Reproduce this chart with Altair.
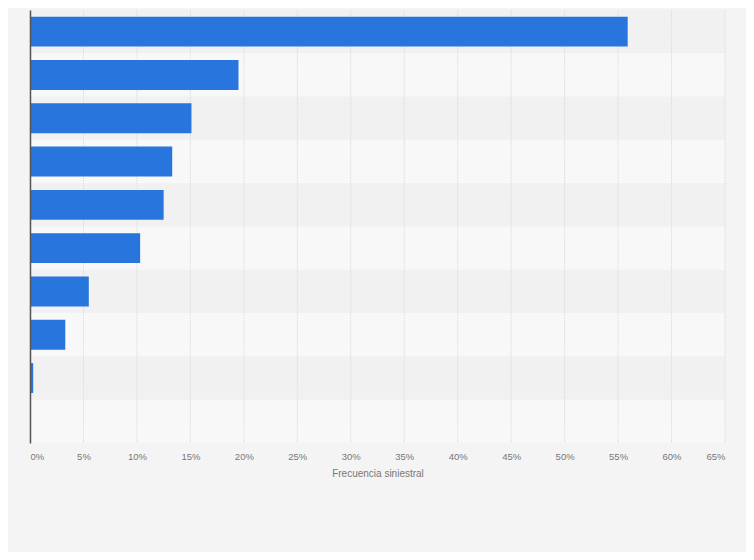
import altair as alt
import pandas as pd

categorias = [f"Categoría {i}" for i in range(1, 11)]
valores = [55.9, 19.5, 15.1, 13.3, 12.5, 10.3, 5.5, 3.3, 0.3, 0.0]
ticks = [0, 5, 10, 15, 20, 25, 30, 35, 40, 45, 50, 55, 60, 65]

df = pd.DataFrame({"categoria": categorias, "valor": valores})
df_ticks = pd.DataFrame({"t": ticks})

W, H = 695, 433
xscale = alt.Scale(domain=[0, 65], nice=False, zero=True)
yscale = alt.Scale(domain=categorias, paddingInner=0, paddingOuter=0)

y_axis = alt.Axis(
    labels=False,
    ticks=False,
    title=None,
    grid=False,
    domainColor="#555555",
    domainWidth=1.5,
    zindex=2,
)
x_axis = alt.Axis(
    values=ticks,
    labelExpr="datum.value + '%'",
    labelFlush=True,
    domain=False,
    ticks=False,
    grid=False,
    labelPadding=8,
    labelFontSize=9.5,
    labelColor="#777777",
    labelFont="Liberation Sans",
    titleFont="Liberation Sans",
    titleFontSize=10,
    titleFontWeight="normal",
    titleColor="#777777",
    titlePadding=8,
)
x_title = "Frecuencia siniestral"

bands = (
    alt.Chart(df)
    .transform_window(idx="row_number()")
    .transform_calculate(par="datum.idx % 2 == 1 ? 'impar' : 'par'")
    .mark_rect()
    .encode(
        y=alt.Y("categoria:N", scale=yscale, sort=categorias, axis=y_axis),
        x=alt.value(0),
        x2=alt.value(W),
        color=alt.Color(
            "par:N",
            scale=alt.Scale(domain=["impar", "par"], range=["#f1f1f1", "#f8f8f8"]),
            legend=None,
        ),
    )
)

grid = (
    alt.Chart(df_ticks)
    .mark_rule(color="#dcdcdc", strokeDash=[1.5, 1], strokeWidth=1)
    .encode(
        x=alt.X("t:Q", scale=xscale, axis=x_axis, title=x_title),
        y=alt.value(0),
        y2=alt.value(H),
    )
)

bars = (
    alt.Chart(df)
    .mark_bar(color="#2876dd", height=alt.RelativeBandSize(band=0.69))
    .encode(
        y=alt.Y("categoria:N", scale=yscale, sort=categorias, axis=y_axis),
        x=alt.X("valor:Q", scale=xscale, axis=x_axis, title=x_title),
    )
)

chart = (
    alt.layer(bands, grid, bars)
    .resolve_scale(color="independent")
    .properties(
        width=W,
        height=H,
        background="#f4f4f4",
        padding={"left": 22, "top": 2, "right": 21, "bottom": 109},
        autosize=alt.AutoSizeParams(type="none"),
    )
    .configure_view(stroke=None)
)

chart.save("out.html", embed_options={"renderer": "svg", "actions": False})
